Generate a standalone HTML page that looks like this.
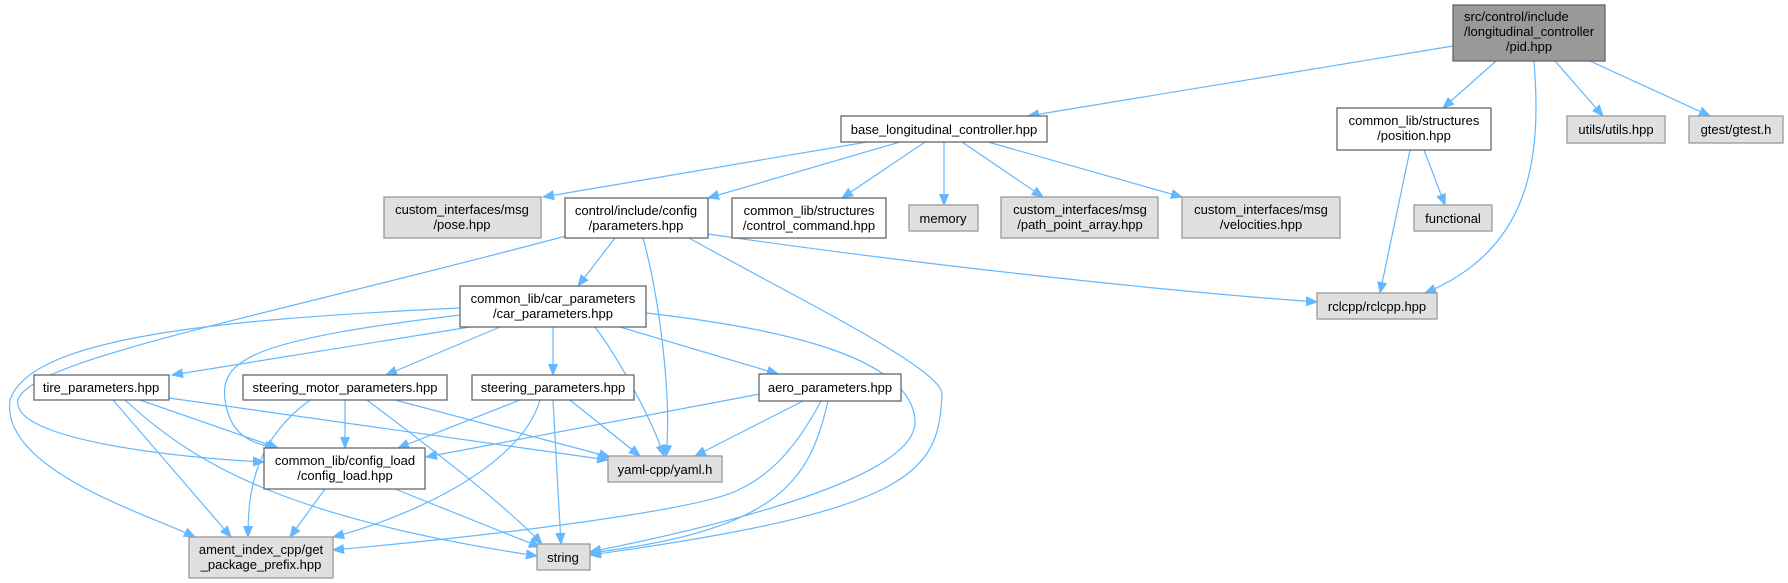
<!DOCTYPE html>
<html><head><meta charset="utf-8"><style>
html,body{margin:0;padding:0;background:#fff;}
svg{display:block;}
text{font-family:"Liberation Sans",Arial,sans-serif;font-size:13px;fill:#000;}
.w{fill:#fff;stroke:#666;stroke-width:1.3}
.g{fill:#e0e0e0;stroke:#999;stroke-width:1.3}
.d{fill:#999;stroke:#666;stroke-width:1.3}
.e{fill:none;stroke:#63b8ff;stroke-width:1.2;marker-end:url(#a)}
</style></head><body>
<svg width="1788" height="583" viewBox="0 0 1788 583" xmlns="http://www.w3.org/2000/svg">
<defs><marker id="a" markerUnits="userSpaceOnUse" markerWidth="12" markerHeight="10" refX="11" refY="5" orient="auto"><path d="M0,0.5 L11,5 L0,9.5 z" fill="#63b8ff" stroke="#63b8ff"/></marker></defs>

<!-- edges -->
<path class="e" d="M1453,46 L1028,116"/>
<path class="e" d="M1496,61 L1443,108"/>
<path class="e" d="M1534,61 C1542,160 1530,250 1425,293"/>
<path class="e" d="M1555,61 L1603,116"/>
<path class="e" d="M1590,61 L1710,116"/>
<path class="e" d="M1410,150 L1380,293"/>
<path class="e" d="M1424,150 L1445,205"/>
<path class="e" d="M867,142 L543,197"/>
<path class="e" d="M900,142 L708,198"/>
<path class="e" d="M925,142 L842,198"/>
<path class="e" d="M944,142 L944,205"/>
<path class="e" d="M962,142 L1043,197"/>
<path class="e" d="M988,142 L1182,197"/>
<path class="e" d="M615,238 L578,286"/>
<path class="e" d="M643,238 C660,300 672,400 666,456"/>
<path class="e" d="M689,238 C800,300 945,370 942,395 C938,470 920,510 590,555"/>
<path class="e" d="M708,234 C900,262 1150,290 1317,302"/>
<path class="e" d="M566,236 C250,320 30,360 18,400 C10,440 180,458 264,462"/>
<path class="e" d="M460,308 C200,320 30,340 10,400 C0,470 150,515 195,537"/>
<path class="e" d="M460,315 C250,340 220,360 225,400 C230,435 250,443 276,448"/>
<path class="e" d="M470,327 L172,375"/>
<path class="e" d="M500,327 L386,375"/>
<path class="e" d="M553,327 L553,375"/>
<path class="e" d="M620,327 L778,374"/>
<path class="e" d="M595,327 C620,360 652,420 664,456"/>
<path class="e" d="M646,313 C750,325 910,350 915,420 C920,480 700,530 590,552"/>
<path class="e" d="M140,400 L278,448"/>
<path class="e" d="M113,400 L231,537"/>
<path class="e" d="M125,400 C200,470 300,520 537,556"/>
<path class="e" d="M169,398 L608,460"/>
<path class="e" d="M345,400 L345,448"/>
<path class="e" d="M310,400 C255,440 248,490 248,537"/>
<path class="e" d="M367,400 C420,440 500,500 542,544"/>
<path class="e" d="M395,400 L610,457"/>
<path class="e" d="M520,400 L398,448"/>
<path class="e" d="M540,400 C520,470 400,520 333,537"/>
<path class="e" d="M553,400 L561,544"/>
<path class="e" d="M570,400 L640,456"/>
<path class="e" d="M760,394 L426,457"/>
<path class="e" d="M803,401 L695,456"/>
<path class="e" d="M821,401 C790,460 760,480 738,490 C700,510 500,535 333,550"/>
<path class="e" d="M828,401 C810,480 780,530 590,553"/>
<path class="e" d="M325,489 L290,537"/>
<path class="e" d="M395,489 L540,547"/>

<!-- nodes -->
<rect class="d" x="1453" y="5" width="152" height="56"/>
<text x="1464" y="21">src/control/include</text>
<text x="1464" y="36">/longitudinal_controller</text>
<text x="1529" y="51" text-anchor="middle">/pid.hpp</text>

<rect class="w" x="841" y="116" width="206" height="26"/>
<text x="944" y="134" text-anchor="middle">base_longitudinal_controller.hpp</text>

<rect class="w" x="1337" y="108" width="154" height="42"/>
<text x="1414" y="125" text-anchor="middle">common_lib/structures</text>
<text x="1414" y="140" text-anchor="middle">/position.hpp</text>

<rect class="g" x="1567" y="116" width="98" height="27"/>
<text x="1616" y="134" text-anchor="middle">utils/utils.hpp</text>
<rect class="g" x="1689" y="116" width="94" height="27"/>
<text x="1736" y="134" text-anchor="middle">gtest/gtest.h</text>

<rect class="g" x="384" y="197" width="157" height="41"/>
<text x="462" y="214" text-anchor="middle">custom_interfaces/msg</text>
<text x="462" y="229" text-anchor="middle">/pose.hpp</text>

<rect class="w" x="565" y="198" width="143" height="40"/>
<text x="636" y="215" text-anchor="middle">control/include/config</text>
<text x="636" y="230" text-anchor="middle">/parameters.hpp</text>

<rect class="w" x="732" y="198" width="154" height="40"/>
<text x="809" y="215" text-anchor="middle">common_lib/structures</text>
<text x="809" y="230" text-anchor="middle">/control_command.hpp</text>

<rect class="g" x="909" y="205" width="69" height="26"/>
<text x="943" y="223" text-anchor="middle">memory</text>

<rect class="g" x="1001" y="197" width="157" height="41"/>
<text x="1080" y="214" text-anchor="middle">custom_interfaces/msg</text>
<text x="1080" y="229" text-anchor="middle">/path_point_array.hpp</text>

<rect class="g" x="1182" y="197" width="158" height="41"/>
<text x="1261" y="214" text-anchor="middle">custom_interfaces/msg</text>
<text x="1261" y="229" text-anchor="middle">/velocities.hpp</text>

<rect class="g" x="1414" y="205" width="78" height="26"/>
<text x="1453" y="223" text-anchor="middle">functional</text>

<rect class="g" x="1317" y="293" width="120" height="26"/>
<text x="1377" y="311" text-anchor="middle">rclcpp/rclcpp.hpp</text>

<rect class="w" x="460" y="286" width="186" height="41"/>
<text x="553" y="303" text-anchor="middle">common_lib/car_parameters</text>
<text x="553" y="318" text-anchor="middle">/car_parameters.hpp</text>

<rect class="w" x="34" y="375" width="135" height="25"/>
<text x="101" y="392" text-anchor="middle">tire_parameters.hpp</text>
<rect class="w" x="243" y="375" width="204" height="25"/>
<text x="345" y="392" text-anchor="middle">steering_motor_parameters.hpp</text>
<rect class="w" x="472" y="375" width="162" height="25"/>
<text x="553" y="392" text-anchor="middle">steering_parameters.hpp</text>
<rect class="w" x="759" y="374" width="142" height="27"/>
<text x="830" y="392" text-anchor="middle">aero_parameters.hpp</text>

<rect class="w" x="264" y="448" width="161" height="41"/>
<text x="345" y="465" text-anchor="middle">common_lib/config_load</text>
<text x="345" y="480" text-anchor="middle">/config_load.hpp</text>

<rect class="g" x="608" y="456" width="114" height="26"/>
<text x="665" y="474" text-anchor="middle">yaml-cpp/yaml.h</text>

<rect class="g" x="189" y="537" width="144" height="41"/>
<text x="261" y="554" text-anchor="middle">ament_index_cpp/get</text>
<text x="261" y="569" text-anchor="middle">_package_prefix.hpp</text>

<rect class="g" x="537" y="544" width="53" height="26"/>
<text x="563" y="562" text-anchor="middle">string</text>
</svg>
</body></html>
